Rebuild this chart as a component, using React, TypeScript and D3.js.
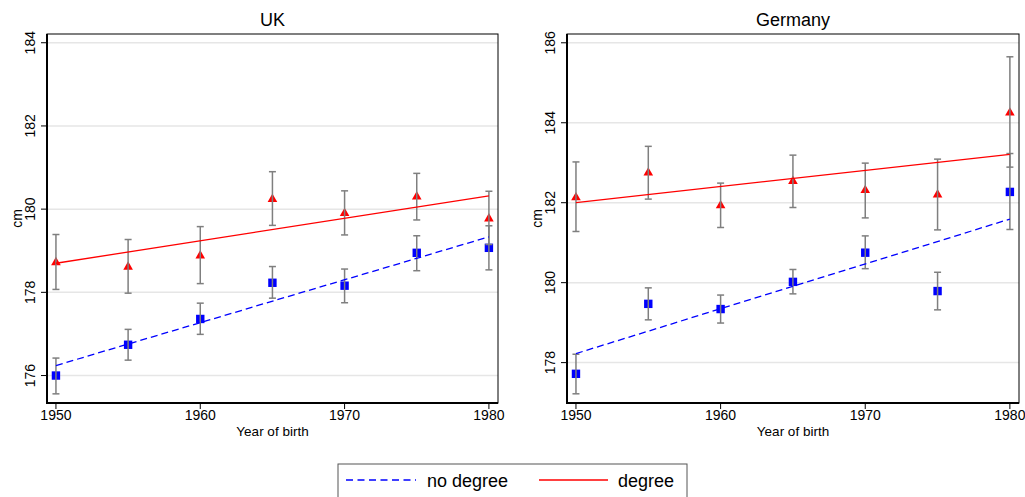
import React from "react";
import * as d3 from "d3";

const years = [1950, 1955, 1960, 1965, 1970, 1975, 1980];
const xTicks = [1950, 1960, 1970, 1980];

const ukNoDeg = [176.0, 176.74, 177.36, 178.23, 178.16, 178.95, 179.07];
const ukNoDegLo = [175.56, 176.37, 176.99, 177.86, 177.75, 178.52, 178.54];
const ukNoDegHi = [176.42, 177.11, 177.74, 178.62, 178.56, 179.36, 179.6];
const ukDeg = [178.74, 178.63, 178.9, 180.26, 179.92, 180.32, 179.79];
const ukDegLo = [178.07, 177.98, 178.21, 179.61, 179.38, 179.74, 179.15];
const ukDegHi = [179.39, 179.27, 179.58, 180.9, 180.44, 180.86, 180.43];
const ukTicks = [176, 178, 180, 182, 184];

const deNoDeg = [177.72, 179.47, 179.34, 180.02, 180.75, 179.79, 182.27];
const deNoDegLo = [177.22, 179.07, 178.99, 179.72, 180.35, 179.32, 181.33];
const deNoDegHi = [178.21, 179.87, 179.69, 180.33, 181.17, 180.26, 183.23];
const deDeg = [182.15, 182.77, 181.95, 182.56, 182.33, 182.22, 184.27];
const deDegLo = [181.28, 182.09, 181.38, 181.88, 181.62, 181.32, 182.89];
const deDegHi = [183.02, 183.41, 182.49, 183.19, 182.99, 183.09, 185.65];
const deTicks = [178, 180, 182, 184, 186];

const BLUE = "#0000ff";
const RED = "#ff0000";
const FONT = "'Liberation Sans', Arial, Helvetica, sans-serif";

// ordinary least squares fit, like the fitted lines in the original
const fit = (xs: number[], ys: number[]) => {
  const mx = d3.mean(xs)!;
  const my = d3.mean(ys)!;
  const sxy = d3.sum(xs, (x, i) => (x - mx) * (ys[i] - my));
  const sxx = d3.sum(xs, x => (x - mx) ** 2);
  const b = sxy / sxx;
  return (x: number) => my + b * (x - mx);
};

const Panel = ({ title, left, right, yDomain, yTicks, noDeg, noDegLo, noDegHi, deg, degLo, degHi }: any) => {
  const top = 34;
  const bottom = 403;
  const x = d3.scaleLinear().domain([1949.38, 1980.63]).range([left, right]);
  const y = d3.scaleLinear().domain(yDomain).range([bottom, top]);
  const fNo = fit(years, noDeg);
  const fDeg = fit(years, deg);
  const x0 = years[0];
  const x1 = years[years.length - 1];
  const cx = (left + right) / 2;

  const errBars = (lo: number[], hi: number[]) =>
    years.map((yr, i) => (
      <g key={yr} stroke="#7f7f7f" strokeWidth={1.5}>
        <line x1={x(yr)} x2={x(yr)} y1={y(lo[i])} y2={y(hi[i])} />
        <line x1={x(yr) - 3.5} x2={x(yr) + 3.5} y1={y(lo[i])} y2={y(lo[i])} />
        <line x1={x(yr) - 3.5} x2={x(yr) + 3.5} y1={y(hi[i])} y2={y(hi[i])} />
      </g>
    ));

  return (
    <g fontFamily={FONT}>
      <text x={cx} y={26} textAnchor="middle" fontSize={18}>{title}</text>
      {yTicks.map((t: number) => (
        <g key={t}>
          <line x1={left} x2={right} y1={y(t)} y2={y(t)} stroke="#e6e6e6" strokeWidth={1.5} />
          <line x1={left - 6} x2={left} y1={y(t)} y2={y(t)} stroke="#000" strokeWidth={1} />
          <text transform={`translate(${left - 12},${y(t)}) rotate(-90)`} textAnchor="middle" fontSize={14}>{t}</text>
        </g>
      ))}
      <text transform={`translate(${left - 25},${(top + bottom) / 2}) rotate(-90)`} textAnchor="middle" fontSize={14}>cm</text>
      {years.map((yr, i) => (
        <rect key={yr} x={x(yr) - 4.2} y={y(noDeg[i]) - 4.2} width={8.4} height={8.4} fill={BLUE} />
      ))}
      {years.map((yr, i) => (
        <path key={yr} transform={`translate(${x(yr)},${y(deg[i])})`} d="M0,-4.8L4.8,3.6L-4.8,3.6Z" fill={RED} />
      ))}
      {errBars(noDegLo, noDegHi)}
      {errBars(degLo, degHi)}
      <line x1={x(x0)} x2={x(x1)} y1={y(fNo(x0))} y2={y(fNo(x1))} stroke={BLUE} strokeWidth={1.3} strokeDasharray="7,4" />
      <line x1={x(x0)} x2={x(x1)} y1={y(fDeg(x0))} y2={y(fDeg(x1))} stroke={RED} strokeWidth={1.3} />
      <rect x={left} y={top} width={right - left} height={bottom - top} fill="none" stroke="#000" strokeWidth={1} />
      <line x1={left} x2={left} y1={top} y2={bottom + 1} stroke="#000" strokeWidth={2} />
      <line x1={left} x2={right} y1={bottom} y2={bottom} stroke="#000" strokeWidth={2} />
      {xTicks.map(t => (
        <g key={t}>
          <line x1={x(t)} x2={x(t)} y1={bottom} y2={bottom + 6} stroke="#000" strokeWidth={1} />
          <text x={x(t)} y={420} textAnchor="middle" fontSize={14}>{t}</text>
        </g>
      ))}
      <text x={cx} y={436} textAnchor="middle" fontSize={13.5}>Year of birth</text>
    </g>
  );
};

const App = () => {
  return (
    <svg width={1025} height={497} style={{ position: "absolute", left: 0, top: 0, background: "#fff" }}>
      <rect width={1025} height={497} fill="#fff" />
      <Panel title="UK" left={47} right={498} yDomain={[175.34, 184.21]} yTicks={ukTicks}
        noDeg={ukNoDeg} noDegLo={ukNoDegLo} noDegHi={ukNoDegHi} deg={ukDeg} degLo={ukDegLo} degHi={ukDegHi} />
      <Panel title="Germany" left={567} right={1019} yDomain={[176.99, 186.22]} yTicks={deTicks}
        noDeg={deNoDeg} noDegLo={deNoDegLo} noDegHi={deNoDegHi} deg={deDeg} degLo={deDegLo} degHi={deDegHi} />
      <g fontFamily={FONT} fontSize={18}>
        <rect x={338} y={464} width={349} height={40} fill="none" stroke="#555" strokeWidth={1} />
        <line x1={346} x2={416} y1={480} y2={480} stroke={BLUE} strokeWidth={1.3} strokeDasharray="7,4.5" />
        <text x={427} y={487}>no degree</text>
        <line x1={539} x2={608} y1={480} y2={480} stroke={RED} strokeWidth={1.3} />
        <text x={618} y={487}>degree</text>
      </g>
    </svg>
  );
};

export default App;
